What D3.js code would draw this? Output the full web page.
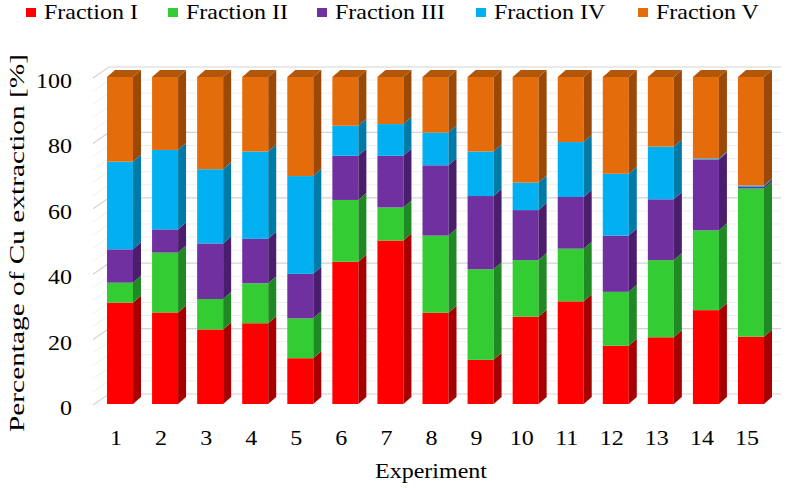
<!DOCTYPE html>
<html>
<head>
<meta charset="utf-8">
<script src="https://cdnjs.cloudflare.com/ajax/libs/d3/7.8.5/d3.min.js"></script>
<style>
  html, body { margin: 0; padding: 0; background: #fff; }
  svg { display: block; }
</style>
</head>
<body>
<svg id="chart" width="788" height="488"></svg>
<script>
const experiments = ["1","2","3","4","5","6","7","8","9","10","11","12","13","14","15"];
const seriesNames = ["Fraction I","Fraction II","Fraction III","Fraction IV","Fraction V"];
const fractionI   = [31.0, 28.0, 22.8, 24.7, 14.0, 43.5, 50.0, 27.9, 13.5, 26.7, 31.4, 17.8, 20.4, 28.7, 20.6];
const fractionII  = [ 6.1, 18.3,  9.3, 12.2, 12.2, 18.9, 10.1, 23.6, 27.7, 17.3, 16.1, 16.5, 23.6, 24.4, 45.3];
const fractionIII = [10.2,  7.1, 17.0, 13.6, 13.6, 13.5, 15.8, 21.5, 22.4, 15.3, 15.8, 17.2, 18.6, 21.7,  0.5];
const fractionIV  = [26.8, 24.3, 22.7, 26.7, 29.9,  9.2,  9.7, 10.0, 13.6,  8.4, 16.8, 18.9, 16.1,  0.3,  0.4];
const fractionV   = [25.9, 22.3, 28.2, 22.8, 30.3, 14.9, 14.4, 17.0, 22.8, 32.3, 19.9, 29.6, 21.3, 24.9, 33.2];
const yTicks = [0, 20, 40, 60, 80, 100];
const minorTicks = d3.range(0, 101, 4);

const frontColors = ["#FF0000", "#33CC33", "#7030A0", "#00B0F0", "#E46C0A"];
const sideColors  = ["#A80000", "#1F8A23", "#4A1E6C", "#007BA8", "#9C4806"];
const topColors   = ["#C80000", "#28A82A", "#5A2682", "#0094C8", "#B2560A"];
const FONT = '"Liberation Serif", "Times New Roman", serif';

const seriesValues = [fractionI, fractionII, fractionIII, fractionIV, fractionV];
const table = experiments.map((e, i) => {
  const row = { exp: e };
  seriesNames.forEach((s, k) => row[s] = seriesValues[k][i]);
  return row;
});
const stacked = d3.stack().keys(seriesNames)(table);

const svg = d3.select("#chart");
const x = d3.scaleBand().domain(experiments).range([107, 764]).paddingInner(0.423).paddingOuter(0);
const y = d3.scaleLinear().domain([0, 100]).range([404, 77]);
const depthX = 8, depthY = -7;
const wallDX = 16, wallDY = -10;
const wallLeft = 93 + wallDX, wallRight = 781;

// gridlines (minor then major)
const grid = svg.append("g");
minorTicks.filter(v => yTicks.indexOf(v) < 0).forEach(v => {
  grid.append("path")
    .attr("d", `M93,${y(v)+1}L${wallLeft},${y(v)+wallDY}L${wallRight},${y(v)+wallDY}`)
    .attr("fill", "none").attr("stroke", "#efefef").attr("stroke-width", 1);
});
yTicks.forEach(v => {
  grid.append("path")
    .attr("d", `M93,${y(v)+1}L${wallLeft},${y(v)+wallDY}L${wallRight},${y(v)+wallDY}`)
    .attr("fill", "none").attr("stroke", "#d4d4d4").attr("stroke-width", 1.2);
});

// bars
const bars = svg.append("g");
experiments.forEach((e, i) => {
  const x0 = x(e), w = x.bandwidth();
  stacked.forEach((layer, k) => {
    const d = layer[i];
    const yb = y(d[0]), yt = y(d[1]);
    if (d[1] - d[0] <= 0) return;
    bars.append("rect")
      .attr("x", x0).attr("y", yt).attr("width", w).attr("height", yb - yt)
      .attr("fill", frontColors[k]);
    bars.append("path")
      .attr("d", `M${x0+w},${yb}L${x0+w},${yt}L${x0+w+depthX},${yt+depthY}L${x0+w+depthX},${yb+depthY}Z`)
      .attr("fill", sideColors[k]);
    if (k === stacked.length - 1) {
      bars.append("path")
        .attr("d", `M${x0},${yt}L${x0+w},${yt}L${x0+w+depthX},${yt+depthY}L${x0+depthX},${yt+depthY}Z`)
        .attr("fill", topColors[k]);
    }
  });
});

const sx = 1.2;
function stretched(g, tx, ty, txt, anchor, size) {
  return g.append("text")
    .attr("transform", `translate(${tx},${ty}) scale(${sx},1)`)
    .attr("text-anchor", anchor)
    .attr("font-size", size)
    .style("font-family", FONT)
    .attr("fill", "#000")
    .text(txt);
}

// y tick labels
const yAxisG = svg.append("g");
yTicks.forEach(v => stretched(yAxisG, 72, y(v) + 11, String(v), "end", 20));

// x tick labels
const xAxisG = svg.append("g");
experiments.forEach(e => stretched(xAxisG, x(e) + x.bandwidth() / 2 - 4, 445, e, "middle", 20));

// axis titles
stretched(svg, 431, 478, "Experiment", "middle", 20);
svg.append("text")
  .attr("transform", "translate(24,243) rotate(-90)")
  .attr("text-anchor", "middle")
  .attr("font-size", 21)
  .style("font-family", FONT)
  .attr("fill", "#000")
  .attr("textLength", 378)
  .attr("lengthAdjust", "spacingAndGlyphs")
  .text("Percentage of Cu extraction [%]");

// legend
const legendX = [44, 186, 335, 494, 656];
const legend = svg.append("g");
seriesNames.forEach((s, k) => {
  legend.append("rect")
    .attr("x", legendX[k] - 18).attr("y", 8).attr("width", 10).attr("height", 9)
    .attr("fill", frontColors[k]);
  stretched(legend, legendX[k], 18.5, s, "start", 20);
});
</script>
</body>
</html>
